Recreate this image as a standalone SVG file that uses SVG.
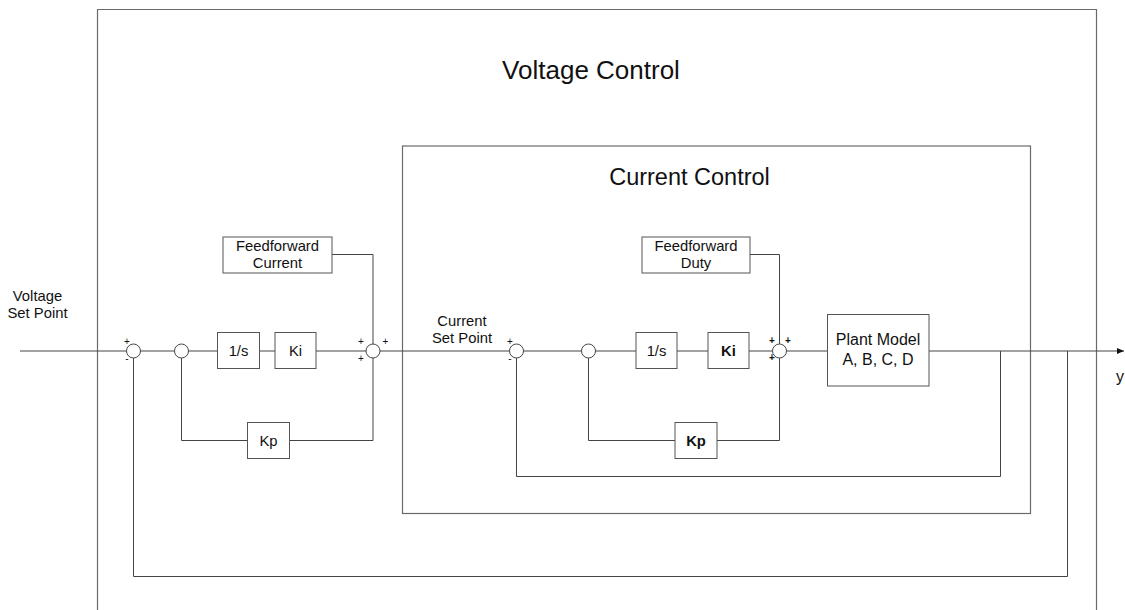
<svg xmlns="http://www.w3.org/2000/svg" width="1125" height="610" viewBox="0 0 1125 610">
<defs>
<marker id="arr" markerWidth="8" markerHeight="8" refX="7" refY="4" orient="auto" markerUnits="userSpaceOnUse">
<path d="M0,1 L7,4 L0,7 Z" fill="#111"/>
</marker>
<style>
.frame{fill:none;stroke:#6a6a6a;stroke-width:1.2}
.box{fill:#fff;stroke:#555;stroke-width:1}
.sum{fill:#fff;stroke:#444;stroke-width:1}
.wire{fill:none;stroke:#444;stroke-width:1}
.t{font-family:"Liberation Sans",Arial,sans-serif;fill:#111;text-anchor:middle}
.lbl{font-size:14.8px}
.b{font-weight:bold}
.sg{font-size:10px;font-family:"Liberation Sans",Arial,sans-serif;fill:#111;text-anchor:middle}
</style>
</defs>
<rect width="1125" height="610" fill="#fff"/>

<g id="voltage-control">
<path class="frame" d="M97.5,612 V9.5 H1096.5 V612"/>
<text class="t" x="591" y="79" font-size="26">Voltage Control</text>
</g>
<g id="current-control">
<rect class="frame" x="402.5" y="146" width="628" height="367.5"/>
<text class="t" x="689.5" y="185" font-size="23.5">Current Control</text>
</g>

<g id="connectors">
<path class="wire" d="M20,351 H126"/>
<path class="wire" d="M140,351 H174"/>
<path class="wire" d="M188,351 H218"/>
<path class="wire" d="M259,351 H275"/>
<path class="wire" d="M316,351 H366"/>
<path class="wire" d="M332,254.5 H373 V344"/>
<path class="wire" d="M181.5,358 V440.5 H248"/>
<path class="wire" d="M289,440.5 H373 V358"/>
<path class="wire" d="M380,351 H509"/>
<path class="wire" d="M523,351 H581"/>
<path class="wire" d="M595,351 H636"/>
<path class="wire" d="M677,351 H708"/>
<path class="wire" d="M749,351 H772"/>
<path class="wire" d="M750,254.5 H779.5 V344"/>
<path class="wire" d="M588.5,358 V440.5 H675"/>
<path class="wire" d="M717,440.5 H779.5 V358"/>
<path class="wire" d="M786,351 H827"/>
<path class="wire" d="M929,351 H1124" marker-end="url(#arr)"/>
<path class="wire" d="M1000.5,351 V476.5 H516.5 V358"/>
<path class="wire" d="M1067.5,351 V576.5 H133.5 V358"/>
</g>

<g id="voltage-set-point">
<text class="t lbl" x="37.5" y="301">Voltage</text>
<text class="t lbl" x="37.5" y="318">Set Point</text>
</g>
<g id="sum1">
<circle class="sum" cx="133.5" cy="351" r="7"/>
<text class="sg" x="127" y="345">+</text>
<text class="sg" x="127" y="362">-</text>
</g>
<g id="node2">
<circle class="sum" cx="181.5" cy="351" r="7"/>
</g>
<g id="integrator-v">
<rect class="box" x="217.5" y="332.5" width="42" height="36"/>
<text class="t lbl" x="238.5" y="356">1/s</text>
</g>
<g id="ki-v">
<rect class="box" x="275" y="332.5" width="41" height="36"/>
<text class="t lbl" x="295.5" y="356">Ki</text>
</g>
<g id="ff-current">
<rect class="box" x="223" y="237" width="109" height="36"/>
<text class="t lbl" x="277.5" y="251">Feedforward</text>
<text class="t lbl" x="277.5" y="268">Current</text>
</g>
<g id="kp-v">
<rect class="box" x="247.5" y="422.5" width="42" height="36"/>
<text class="t lbl" x="268.5" y="446">Kp</text>
</g>
<g id="sum3">
<circle class="sum" cx="373" cy="351" r="7"/>
<text class="sg" x="361" y="345">+</text>
<text class="sg" x="385.5" y="345">+</text>
<text class="sg" x="361" y="362">+</text>
</g>
<g id="current-set-point">
<text class="t lbl" x="462" y="326">Current</text>
<text class="t lbl" x="462" y="343">Set Point</text>
</g>
<g id="sum4">
<circle class="sum" cx="516.5" cy="351" r="7"/>
<text class="sg" x="510" y="345">+</text>
<text class="sg" x="510" y="362">-</text>
</g>
<g id="node5">
<circle class="sum" cx="588.5" cy="351" r="7"/>
</g>
<g id="integrator-i">
<rect class="box" x="636" y="332.5" width="41" height="36"/>
<text class="t lbl" x="656.5" y="356">1/s</text>
</g>
<g id="ki-i">
<rect class="box" x="708" y="332.5" width="41" height="36"/>
<text class="t lbl b" x="728.5" y="356">Ki</text>
</g>
<g id="ff-duty">
<rect class="box" x="642" y="237" width="108" height="36"/>
<text class="t lbl" x="696" y="251">Feedforward</text>
<text class="t lbl" x="696" y="268">Duty</text>
</g>
<g id="kp-i">
<rect class="box" x="675" y="422.5" width="42" height="36"/>
<text class="t lbl b" x="696" y="446">Kp</text>
</g>
<g id="sum6">
<circle class="sum" cx="779.5" cy="351" r="7"/>
<text class="sg b" x="772" y="344">+</text>
<text class="sg b" x="788" y="344">+</text>
<text class="sg b" x="772" y="361">+</text>
</g>
<g id="plant">
<rect class="box" x="827.5" y="314.5" width="101.5" height="71.5"/>
<text class="t" x="878" y="345" font-size="16">Plant Model</text>
<text class="t" x="878" y="365" font-size="16">A, B, C, D</text>
</g>
<g id="output-y">
<text class="t" x="1120" y="382" font-size="16">y</text>
</g>
</svg>
